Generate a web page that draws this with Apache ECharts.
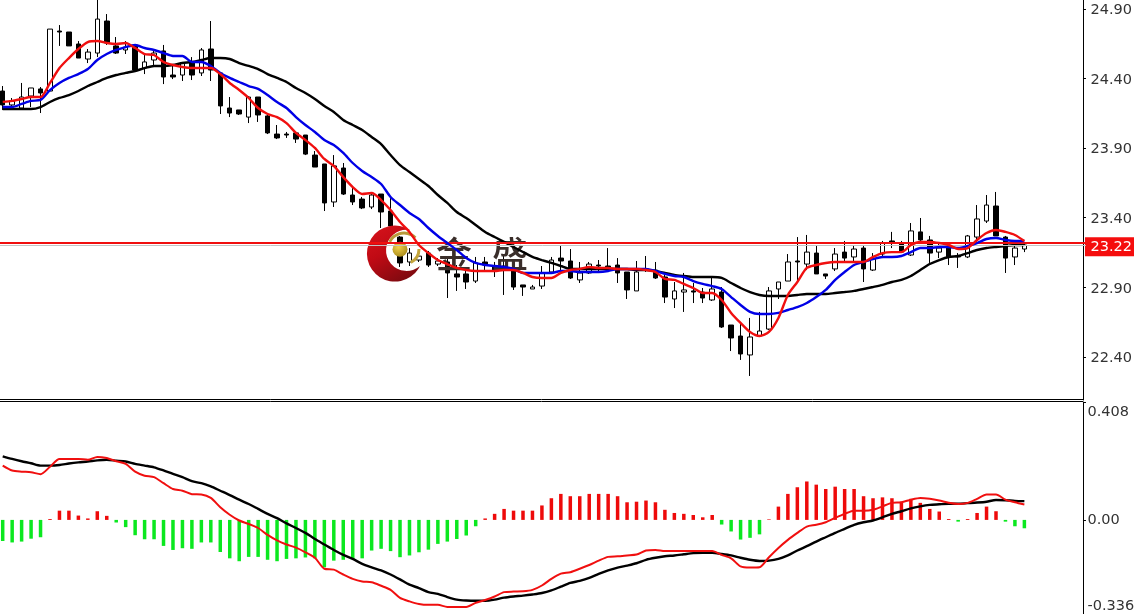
<!DOCTYPE html>
<html><head><meta charset="utf-8">
<style>html,body{margin:0;padding:0;background:#fff;overflow:hidden}#c{width:1134px;height:614px}</style>
<script src="https://cdn.jsdelivr.net/npm/echarts@6/dist/echarts.min.js"></script>
</head><body><div id="c"></div>
<script>
const opens=[24.310,24.210,24.188,24.274,24.325,24.310,24.741,24.734,24.648,24.540,
24.583,24.813,24.634,24.605,24.641,24.475,24.533,24.598,24.425,24.425,
24.519,24.440,24.612,24.440,24.188,24.174,24.123,24.267,24.131,24.001,
24.001,24.009,23.994,23.850,23.786,23.513,23.757,23.563,23.534,23.477,
23.570,23.448,23.261,23.082,23.096,23.146,23.067,23.082,22.996,22.996,
22.945,23.082,23.046,23.039,23.039,22.917,22.888,22.909,23.010,23.110,
23.089,22.953,23.003,23.060,23.053,23.060,23.010,22.874,23.032,23.024,
22.974,22.816,22.866,22.874,22.866,22.809,22.866,22.629,22.550,22.414,
22.550,22.600,22.888,22.945,23.089,23.067,23.146,22.996,23.032,23.153,
23.118,23.182,23.024,23.139,23.233,23.211,23.132,23.298,23.240,23.153,
23.190,23.125,23.118,23.261,23.376,23.484,23.261,23.118,23.175];
const closes=[24.210,24.239,24.267,24.332,24.296,24.755,24.734,24.634,24.547,24.590,
24.827,24.655,24.583,24.626,24.461,24.519,24.583,24.411,24.411,24.511,
24.425,24.605,24.461,24.203,24.152,24.145,24.267,24.138,24.009,23.973,
23.994,23.965,23.857,23.764,23.506,23.772,23.570,23.513,23.470,23.563,
23.441,23.340,23.075,23.146,23.124,23.060,23.089,23.003,22.974,22.938,
23.075,23.060,23.024,23.053,22.902,22.902,22.902,23.003,23.096,23.089,
22.967,23.003,23.067,23.053,23.046,23.003,22.881,23.010,23.024,22.967,
22.830,22.874,22.881,22.866,22.823,22.888,22.615,22.536,22.421,22.543,
22.586,22.874,22.938,23.082,23.082,23.153,22.996,22.981,23.139,23.110,
23.175,23.032,23.103,23.218,23.226,23.153,23.305,23.240,23.146,23.182,
23.118,23.118,23.269,23.391,23.491,23.269,23.110,23.182,23.204];
const lows=[24.174,24.181,24.174,24.195,24.152,24.303,24.634,24.634,24.547,24.511,
24.554,24.641,24.576,24.576,24.461,24.432,24.490,24.360,24.396,24.382,
24.389,24.418,24.382,24.145,24.123,24.138,24.080,24.088,24.001,23.965,
23.973,23.937,23.850,23.764,23.448,23.477,23.563,23.491,23.462,23.462,
23.326,23.268,23.046,23.053,23.082,23.046,23.053,22.823,22.874,22.888,
22.931,23.024,22.974,22.845,22.881,22.838,22.888,22.888,23.003,23.024,
22.960,22.931,22.996,23.003,23.039,22.931,22.816,22.874,23.010,22.960,
22.787,22.751,22.723,22.787,22.787,22.802,22.608,22.442,22.378,22.263,
22.550,22.593,22.816,22.945,22.931,23.024,22.996,22.960,23.017,23.075,
23.075,22.938,23.017,23.110,23.182,23.153,23.125,23.233,23.075,23.110,
23.060,23.039,23.110,23.218,23.362,23.269,23.003,23.060,23.153];
const highs=[24.346,24.260,24.368,24.332,24.339,24.755,24.784,24.734,24.669,24.612,
25.000,24.863,24.698,24.669,24.641,24.569,24.605,24.641,24.497,24.519,
24.554,24.619,24.813,24.447,24.267,24.174,24.274,24.267,24.152,24.066,
24.016,24.009,23.994,23.879,23.786,23.850,23.793,23.613,23.549,23.570,
23.570,23.541,23.268,23.182,23.153,23.161,23.110,23.110,23.060,23.024,
23.118,23.118,23.082,23.132,23.060,22.917,22.917,23.053,23.118,23.204,
23.175,23.082,23.082,23.096,23.182,23.110,23.010,23.089,23.125,23.082,
22.989,22.938,23.003,22.931,22.895,22.974,22.902,22.629,22.644,22.680,
22.723,22.902,22.938,23.139,23.261,23.276,23.204,22.996,23.182,23.233,
23.197,23.204,23.146,23.233,23.298,23.233,23.362,23.398,23.269,23.218,
23.204,23.146,23.276,23.491,23.563,23.585,23.269,23.204,23.211];
const maRed=[24.232,24.239,24.253,24.267,24.267,24.368,24.475,24.547,24.612,24.662,
24.669,24.655,24.648,24.655,24.619,24.576,24.569,24.519,24.497,24.483,
24.475,24.475,24.475,24.432,24.368,24.317,24.260,24.188,24.145,24.123,
24.080,24.009,23.958,23.901,23.822,23.772,23.692,23.620,23.570,23.577,
23.527,23.455,23.369,23.298,23.204,23.146,23.096,23.067,23.039,23.024,
23.017,23.017,23.017,23.024,23.024,23.003,22.974,22.967,22.967,23.003,
23.024,23.032,23.046,23.039,23.039,23.032,23.032,23.032,23.024,23.010,
22.960,22.953,22.924,22.895,22.859,22.859,22.809,22.716,22.644,22.579,
22.550,22.579,22.680,22.845,22.938,23.039,23.060,23.075,23.082,23.082,
23.082,23.082,23.118,23.146,23.153,23.153,23.204,23.226,23.226,23.218,
23.204,23.175,23.182,23.240,23.290,23.312,23.298,23.276,23.233];
const maBlue=[24.195,24.195,24.217,24.239,24.246,24.317,24.368,24.404,24.432,24.468,
24.533,24.576,24.605,24.626,24.641,24.619,24.605,24.583,24.562,24.562,
24.519,24.519,24.490,24.440,24.404,24.375,24.346,24.325,24.281,24.231,
24.188,24.123,24.066,24.016,23.958,23.922,23.865,23.793,23.736,23.692,
23.642,23.549,23.491,23.434,23.391,23.326,23.269,23.218,23.168,23.110,
23.075,23.060,23.053,23.046,23.032,23.003,23.003,23.003,23.003,23.017,
23.017,23.010,23.010,23.010,23.017,23.032,23.032,23.032,23.032,23.017,
22.996,22.981,22.974,22.945,22.924,22.909,22.888,22.830,22.773,22.723,
22.708,22.708,22.716,22.737,22.758,22.787,22.830,22.881,22.953,23.010,
23.060,23.082,23.103,23.118,23.118,23.125,23.153,23.182,23.182,23.190,
23.190,23.182,23.197,23.218,23.247,23.254,23.240,23.233,23.233];
const maBlack=[24.181,24.181,24.181,24.181,24.195,24.231,24.260,24.281,24.310,24.346,
24.375,24.404,24.425,24.440,24.454,24.475,24.490,24.490,24.497,24.511,
24.519,24.533,24.547,24.547,24.540,24.511,24.490,24.468,24.432,24.404,
24.375,24.332,24.296,24.253,24.203,24.160,24.102,24.066,24.030,23.980,
23.929,23.850,23.778,23.728,23.678,23.628,23.563,23.506,23.441,23.398,
23.348,23.298,23.261,23.226,23.190,23.154,23.118,23.096,23.075,23.053,
23.032,23.032,23.032,23.032,23.032,23.032,23.032,23.024,23.024,23.017,
23.003,22.989,22.981,22.974,22.974,22.974,22.967,22.931,22.895,22.866,
22.845,22.838,22.838,22.838,22.845,22.852,22.852,22.852,22.859,22.866,
22.874,22.888,22.902,22.917,22.938,22.953,22.981,23.024,23.067,23.096,
23.118,23.125,23.146,23.168,23.182,23.190,23.197,23.204,23.204];
const macdHist=[-.073,-.078,-.075,-.065,-.060,.003,.032,.032,.015,.005,
.030,.014,-.009,-.025,-.053,-.067,-.067,-.090,-.104,-.098,
-.100,-.078,-.078,-.111,-.133,-.143,-.128,-.128,-.138,-.143,
-.135,-.133,-.130,-.133,-.164,-.141,-.138,-.136,-.133,-.106,
-.100,-.108,-.129,-.123,-.112,-.103,-.083,-.075,-.066,-.054,
-.022,.005,.021,.038,.032,.032,.032,.050,.075,.090,
.082,.082,.090,.090,.090,.082,.061,.063,.067,.061,
.035,.024,.021,.017,.009,.017,-.016,-.040,-.068,-.062,
-.050,.002,.046,.090,.113,.133,.122,.107,.115,.107,
.107,.082,.075,.078,.075,.063,.073,.059,.038,.029,
.003,-.006,.003,.024,.046,.030,-.006,-.022,-.029];
const macdRed=[.188,.171,.167,.165,.158,.184,.211,.211,.211,.208,
.218,.214,.203,.194,.167,.153,.148,.127,.107,.101,
.089,.088,.076,.044,.018,-.002,-.014,-.028,-.052,-.071,
-.085,-.096,-.112,-.131,-.169,-.172,-.189,-.204,-.213,-.216,
-.228,-.242,-.270,-.282,-.291,-.294,-.294,-.301,-.301,-.301,
-.287,-.277,-.265,-.250,-.248,-.247,-.242,-.227,-.204,-.186,
-.181,-.169,-.156,-.141,-.128,-.126,-.123,-.120,-.106,-.104,
-.108,-.108,-.108,-.108,-.108,-.108,-.121,-.133,-.161,-.165,
-.164,-.129,-.097,-.069,-.045,-.023,-.017,-.008,.007,.021,
.032,.032,.035,.047,.059,.061,.070,.076,.073,.067,
.059,.055,.059,.073,.088,.088,.070,.061,.053];
const macdBlack=[.220,.211,.203,.196,.188,.188,.190,.195,.199,.202,
.206,.208,.205,.202,.194,.188,.182,.171,.159,.148,
.134,.127,.116,.101,.086,.070,.055,.038,.021,.006,
-.012,-.028,-.045,-.066,-.085,-.104,-.121,-.135,-.152,-.164,
-.175,-.189,-.206,-.224,-.236,-.250,-.256,-.267,-.276,-.279,
-.280,-.280,-.276,-.269,-.265,-.262,-.258,-.253,-.244,-.231,
-.218,-.211,-.201,-.187,-.175,-.165,-.158,-.150,-.138,-.131,
-.126,-.123,-.119,-.115,-.114,-.114,-.118,-.123,-.131,-.138,
-.142,-.141,-.135,-.123,-.106,-.091,-.075,-.060,-.045,-.031,
-.017,-.008,-.002,.009,.021,.030,.040,.047,.052,.054,
.056,.056,.058,.060,.063,.069,.068,.066,.065];
const priceTicks=[22.40,22.90,23.40,23.90,24.40,24.90];
const macdTicks=[-0.336,0,0.408];
const bidPrice=23.218, askPrice=23.204, bidLabel='23.22';

const FONT='"DejaVu Sans"';
const categories=Array.from({length:115},(_,i)=>String(i));
const candles=opens.map((o,i)=>[o,closes[i],lows[i],highs[i]]);
echarts.graphic.registerShape('crescent',echarts.graphic.extendPath('M43 5 A28 28 0 1 0 53 41 A20.6 20.6 0 1 1 43 5 Z',{}));
const chart=echarts.init(document.getElementById('c'),null,{renderer:'canvas'});
const lineOf=(name,data,color,w,xi,yi,z,extra)=>Object.assign({name,type:'line',data,xAxisIndex:xi,yAxisIndex:yi,z,
  showSymbol:false,symbol:'none',smooth:0.25,lineStyle:{color,width:w},silent:true,animation:false},extra||{});
chart.setOption({
  animation:false,backgroundColor:'#fff',
  grid:[{left:-2.03,top:0,width:1087.9,height:400,outerBoundsMode:'none'},{left:-2.03,top:402,width:1087.9,height:215,outerBoundsMode:'none'}],
  xAxis:[
    {type:'category',gridIndex:0,data:categories,show:false,boundaryGap:true},
    {type:'category',gridIndex:1,data:categories,show:false,boundaryGap:true}
  ],
  yAxis:[
    {type:'value',gridIndex:0,position:'right',offset:-2.9,min:22.0904,max:24.964,scale:true,
     splitLine:{show:false},
     axisLine:{show:true,lineStyle:{color:'#000',width:1}},
     axisTick:{show:true,length:3,inside:false,lineStyle:{color:'#000'},customValues:priceTicks},
     axisLabel:{show:true,margin:2,hideOverlap:false,customValues:[...priceTicks,Number(bidLabel)],
       formatter:v=>Math.abs(v-Number(bidLabel))<1e-6?`{gap|}\n{red|${bidLabel}}`:`{n|${v.toFixed(2)}}`,
       rich:{
         n:{fontFamily:FONT,fontSize:14.5,color:'#333',padding:[3,0,0,5.5]},
         gap:{height:8,fontSize:1},
         red:{fontFamily:FONT,fontSize:14.5,color:'#fff',backgroundColor:'#f50d0d',padding:[2,12,2,5.5]}
       }}},
    {type:'value',gridIndex:1,position:'right',offset:-2.9,min:-0.336,max:0.408,
     splitLine:{show:false},
     axisLine:{show:true,lineStyle:{color:'#000',width:1}},
     axisTick:{show:true,length:3,lineStyle:{color:'#000'},customValues:macdTicks},
     axisLabel:{show:true,margin:4.5,hideOverlap:false,customValues:macdTicks,lineHeight:21,
       fontFamily:FONT,fontSize:14.5,color:'#333',
       verticalAlignMinLabel:'bottom',verticalAlignMaxLabel:'top',
       formatter:v=>v===0?'0.00':String(v)}}
  ],
  series:[
    {name:'K',type:'candlestick',data:candles,xAxisIndex:0,yAxisIndex:0,z:2,barWidth:5,silent:true,animation:false,
     itemStyle:{color:'#fff',color0:'#000',borderColor:'#000',borderColor0:'#000',borderWidth:1}},
    lineOf('MA long',maBlack,'#000',2.4,0,0,4),
    lineOf('MA mid',maBlue,'#0000e6',2.4,0,0,5),
    lineOf('MA short',maRed,'#f00f0f',2.4,0,0,6,{markLine:{silent:true,symbol:'none',animation:false,label:{show:false},
      data:[{yAxis:askPrice,lineStyle:{color:'#c4c4c4',width:1,type:'solid'}},{yAxis:bidPrice,lineStyle:{color:'#f00f0f',width:2,type:'solid'}}]}}),
    {name:'MACD',type:'bar',data:macdHist,xAxisIndex:1,yAxisIndex:1,barWidth:3.5,z:2,silent:true,animation:false,
     itemStyle:{color:p=>p.value>=0?'#ee0a0a':'#0be81f'}},
    lineOf('DIF',macdBlack,'#000',2.4,1,1,4),
    lineOf('DEA',macdRed,'#f00f0f',2,1,1,5)
  ],
  graphic:[
    {type:'line',z:1,shape:{x1:0,y1:399.5,x2:1083,y2:399.5},style:{stroke:'#000',lineWidth:1}},
    {type:'line',z:1,shape:{x1:0,y1:401.5,x2:1083,y2:401.5},style:{stroke:'#000',lineWidth:1}},
    {type:'crescent',z:3,x:367,y:225,
     style:{fill:new echarts.graphic.LinearGradient(0,0,.6,1,[{offset:0,color:'#d8141c'},{offset:.5,color:'#c00a14'},{offset:1,color:'#820a10'}])}},
    {type:'arc',z:3,shape:{cx:404,cy:249,r:16,startAngle:3.6,endAngle:5.5,clockwise:true},style:{stroke:'#b89a3a',lineWidth:3,fill:null}},
    {type:'arc',z:3,shape:{cx:404,cy:249,r:15,startAngle:0,endAngle:1.1,clockwise:true},style:{stroke:'#c4a53c',lineWidth:3,fill:null}},
    {type:'circle',z:3,shape:{cx:400,cy:249.3,r:7.5},style:{fill:new echarts.graphic.RadialGradient(.4,.35,.7,[{offset:0,color:'#f2d24a'},{offset:1,color:'#a88a1c'}])}},
    {type:'text',z:3,x:454,y:254,style:{text:'金',font:'500 36px "Noto Sans CJK SC"',fill:'#3a2e2a',textAlign:'center',textVerticalAlign:'middle'}},
    {type:'text',z:3,x:510,y:254,style:{text:'盛',font:'500 36px "Noto Sans CJK SC"',fill:'#3a2e2a',textAlign:'center',textVerticalAlign:'middle'}}
  ]
});
</script></body></html>
